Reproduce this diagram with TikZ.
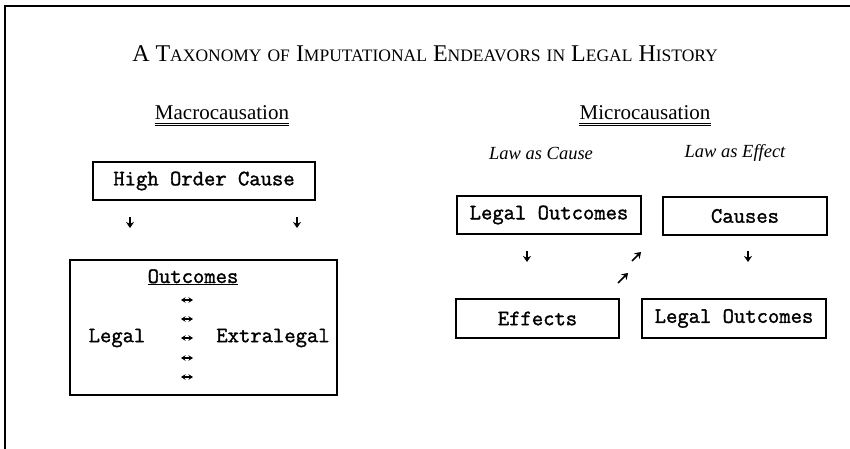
\documentclass[tikz,border=0pt]{standalone}
\usepackage{fontspec}
\setmainfont{Liberation Serif}
\setmonofont[AutoFakeBold=1.5]{Latin Modern Mono}
\usetikzlibrary{arrows.meta,positioning,calc}
\newcommand{\smc}[1]{{\fontsize{17.5}{20}\selectfont\MakeUppercase{#1}}}
\tikzset{
  frame/.style={line width=1.6pt},
  tbox/.style={draw, line width=1.4pt, inner sep=0pt, font=\ttfamily\bfseries\fontsize{22}{24}\selectfont},
  head/.style={inner sep=0pt, font=\fontsize{21}{24}\selectfont},
  sub/.style={inner sep=0pt, font=\itshape\fontsize{18.5}{22}\selectfont},
  mono/.style={inner sep=0pt, font=\ttfamily\bfseries\fontsize{22}{24}\selectfont},
  dline/.style={double, double distance=1.4pt, line width=0.8pt},
  arr/.style={-{Stealth[length=6pt,width=8pt]}, line width=1.6pt},
  darr/.style={{Stealth[length=4.5pt,width=5.5pt]}-{Stealth[length=4.5pt,width=5.5pt]}, line width=1.3pt}
}
\begin{document}
\begin{tikzpicture}[x=1pt,y=-1pt]
\useasboundingbox (0,0) rectangle (850,449);
% frame
\draw[frame] (850,6) -- (5,6) -- (5,449);

% headings
\node (title) at (425,54) {\fontsize{24}{28}\selectfont A T\smc{axonomy} \smc{of} I\smc{mputational} E\smc{ndeavors} \smc{in} L\smc{egal} H\smc{istory}};
\node[head, anchor=base] (macro) at (222,120) {Macrocausation};
\node[head, anchor=base] (micro) at (645,120) {Microcausation};
\draw[dline] ([yshift=-4pt]macro.south west) -- ([yshift=-4pt]macro.south east);
\draw[dline] ([yshift=-4pt]micro.south west) -- ([yshift=-4pt]micro.south east);

% macrocausation
\node[tbox, minimum width=222pt, minimum height=38pt] (hoc) at (204,181) {High Order Cause};
\node[tbox, minimum width=267pt, minimum height=135pt] (outc) at (203.5,327.5) {};
\node[mono, anchor=base] (otitle) at (193,283) {\underline{Outcomes}};
\node[mono] (legal) at (117,338) {Legal};
\node[mono] (extra) at (273,338) {Extralegal};
\foreach \i/\y in {1/300,2/319,3/338,4/358,5/377}{
  \coordinate (l\i) at (181,\y);
  \coordinate (r\i) at (193,\y);
  \draw[darr] (l\i) -- (r\i);
}
\coordinate (ha1) at (130,217);
\coordinate (hb1) at (130,228);
\coordinate (ha2) at (297,217);
\coordinate (hb2) at (297,228);
\draw[arr] (ha1) -- (hb1);
\draw[arr] (ha2) -- (hb2);

% microcausation
\node[sub] (lac) at (541,153) {Law as Cause};
\node[sub] (lae) at (735,153) {Law as Effect};
\node[tbox, minimum width=184pt, minimum height=38pt] (lo1) at (549,215) {Legal Outcomes};
\node[tbox, minimum width=164pt, minimum height=38pt] (causes) at (745,216) {Causes};
\node[tbox, minimum width=163pt, minimum height=39pt] (effects) at (537.5,318.5) {Effects};
\node[tbox, minimum width=184pt, minimum height=39pt] (lo2) at (734,318.5) {Legal Outcomes};
\coordinate (ma1) at (527,251);
\coordinate (mb1) at (527,262);
\coordinate (ma2) at (748,251);
\coordinate (mb2) at (748,262);
\coordinate (ua1) at (632,261);
\coordinate (ub1) at (641,252);
\coordinate (ua2) at (618,283);
\coordinate (ub2) at (628,273);
\draw[arr] (ma1) -- (mb1);
\draw[arr] (ma2) -- (mb2);
\draw[arr] (ua1) -- (ub1);
\draw[arr] (ua2) -- (ub2);
\end{tikzpicture}
\end{document}
